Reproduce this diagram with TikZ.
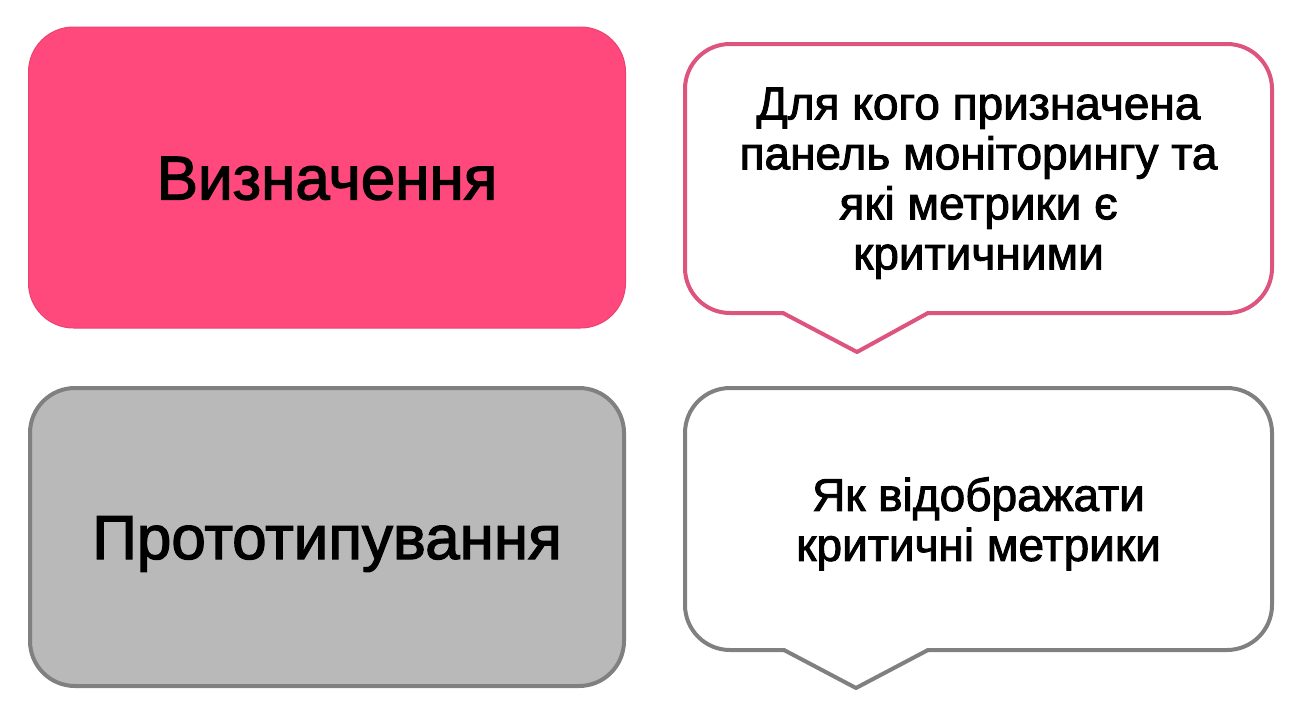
\documentclass[tikz,border=0pt]{standalone}
\usepackage{fontspec}
\setmainfont{Liberation Sans}[BoldFont=Liberation Sans, BoldFeatures={FakeBold=2}]
\usepackage{tikz}
\usetikzlibrary{positioning}
\definecolor{color1}{RGB}{255,72,124}
\definecolor{color2}{RGB}{185,185,185}
\definecolor{color3}{RGB}{128,128,128}
\definecolor{color4}{RGB}{221,84,126}

\begin{document}
\begin{tikzpicture}[x=1pt,y=-1pt]

    \useasboundingbox (0,0) rectangle (1311,715);

    \tikzset{
    % Stage boxes on the left and speech bubbles on the right
    stage1/.style={rectangle, rounded corners=45pt, fill=color1, draw=color1!92!black, line width=1pt,
        minimum width=597pt, minimum height=301pt, outer sep=0pt,
        text height=44pt, text depth=0pt, font=\fontsize{62}{70}\selectfont\bfseries},
    stage2/.style={rectangle, rounded corners=45pt, fill=color2, draw=color3, line width=4pt,
        minimum width=594pt, minimum height=298pt, outer sep=0pt,
        text height=44pt, text depth=0pt, font=\fontsize{62}{70}\selectfont\bfseries},
    bubble/.style={rectangle, minimum width=587pt, outer sep=0pt, align=center,
        text depth=0pt, font=\fontsize{46}{50}\selectfont\bfseries},
    bubbleline/.style={line width=4pt, rounded corners=45pt, line cap=round, line join=round}
    }

    % Left column
    \node at (327,177.5)[stage1] (define) {Визначення};
    \node at (327,537)[stage2] (proto) {Прототипування};

    % Right column
    \node at (978.5,178.5)[bubble, minimum height=269pt] (who)
        {Для кого призначена\\панель моніторингу та\\які метрики є\\критичними};
    \node at (978.5,519)[bubble, minimum height=262pt] (how)
        {Як відображати\\критичні метрики};

    \draw[bubbleline, draw=color4] ([xshift=-195.5pt]who.south) -- (who.south west) -- (who.north west)
        -- (who.north east) -- (who.south east) -- ([xshift=-50.5pt]who.south);
    \draw[bubbleline, sharp corners, draw=color4] ([xshift=-50.5pt]who.south)
        -- ([xshift=-121.5pt,yshift=-39pt]who.south) -- ([xshift=-195.5pt]who.south);

    \draw[bubbleline, draw=color3] ([xshift=-194.5pt]how.south) -- (how.south west) -- (how.north west)
        -- (how.north east) -- (how.south east) -- ([xshift=-50.5pt]how.south);
    \draw[bubbleline, sharp corners, draw=color3] ([xshift=-50.5pt]how.south)
        -- ([xshift=-122.5pt,yshift=-38pt]how.south) -- ([xshift=-194.5pt]how.south);

\end{tikzpicture}
\end{document}
